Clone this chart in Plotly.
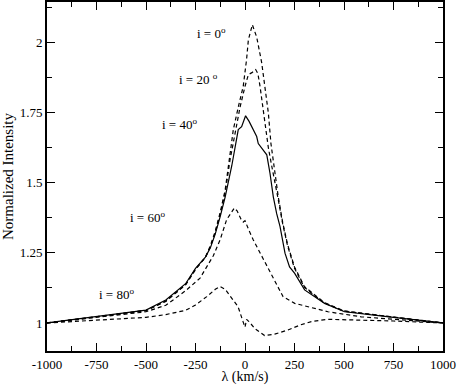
import plotly.graph_objects as go

# line profiles, velocity in km/s
x_i0 = [-1000, -500, -400, -300, -250, -200, -175, -150, -125, -100, -76, -59, -34, -9, 8, 17, 37, 59,
        84, 101, 118, 131, 150, 168, 190, 215, 250, 300, 400, 500, 750, 1000]
y_i0 = [1.0, 1.044, 1.077, 1.136, 1.19, 1.235, 1.275, 1.328, 1.395, 1.475, 1.60, 1.69, 1.77, 1.844,
        1.94, 2.01, 2.064, 2.02, 1.93, 1.844, 1.749, 1.64, 1.54, 1.45, 1.36, 1.28, 1.20, 1.13, 1.073,
        1.043, 1.021, 1.0]

x_i20 = [-1000, -500, -400, -300, -250, -200, -175, -150, -125, -100, -76, -51, -25, 0, 17, 35, 54, 65,
         76, 92, 118, 135, 150, 168, 190, 215, 250, 300, 400, 500, 750, 1000]
y_i20 = [1.0, 1.045, 1.078, 1.137, 1.193, 1.233, 1.271, 1.323, 1.39, 1.465, 1.58, 1.68, 1.77, 1.844,
         1.886, 1.893, 1.904, 1.89, 1.844, 1.76, 1.625, 1.56, 1.51, 1.44, 1.355, 1.275, 1.195, 1.127,
         1.071, 1.042, 1.021, 1.0]

x_i40 = [-1000, -500, -400, -300, -250, -200, -175, -150, -125, -100, -67, -51, -34, -17, 3, 20, 34,
         59, 67, 92, 110, 126, 143, 160, 177, 202, 225, 251, 301, 402, 503, 750, 1000]
y_i40 = [1.0, 1.046, 1.082, 1.14, 1.195, 1.235, 1.268, 1.318, 1.38, 1.45, 1.56, 1.618, 1.69, 1.70,
         1.739, 1.72, 1.70, 1.665, 1.64, 1.618, 1.60, 1.535, 1.45, 1.39, 1.344, 1.249, 1.20, 1.177, 1.118,
         1.07, 1.04, 1.02, 1.0]

x_i60 = [-1000, -500, -400, -300, -227, -160, -126, -93, -54, -40, -20, -9, 0, 8, 20, 42, 84, 133,
         192, 251, 419, 587, 756, 1000]
y_i60 = [1.0, 1.04, 1.063, 1.115, 1.16, 1.24, 1.296, 1.368, 1.41, 1.40, 1.37, 1.36, 1.365, 1.35,
         1.33, 1.296, 1.24, 1.177, 1.094, 1.07, 1.04, 1.022, 1.013, 1.0]

x_i80 = [-1000, -750, -500, -400, -300, -250, -193, -150, -126, -100, -86, -60, -35, -10, 0, 8, 20,
         50, 99, 150, 217, 280, 335, 419, 600, 750, 1000]
y_i80 = [1.0, 1.011, 1.02, 1.03, 1.045, 1.064, 1.094, 1.12, 1.13, 1.12, 1.106, 1.08, 1.058, 1.005,
         0.985, 1.013, 1.005, 0.98, 0.955, 0.96, 0.975, 0.993, 1.005, 1.013, 1.01, 1.007, 1.0]

labels = ["i = 0<sup>o</sup>", "i = 20 <sup>o</sup>", "i = 40<sup>o</sup>",
          "i = 60<sup>o</sup>", "i = 80<sup>o</sup>"]
label_x = [-253, -343, -429, -591, -747]
label_y = [2.036, 1.871, 1.711, 1.379, 1.104]

x_ticks = [-1000, -750, -500, -250, 0, 250, 500, 750, 1000]
x_ticktext = ["-1000", "-750", "-500", "-250", "0", "250", "500", "750", "1000"]
y_ticks = [1, 1.25, 1.5, 1.75, 2]
y_ticktext = ["1", "1.25", "1.5", "1.75", "2"]

curves = [(x_i0, y_i0, "dash"), (x_i20, y_i20, "dash"), (x_i40, y_i40, "solid"),
          (x_i60, y_i60, "dash"), (x_i80, y_i80, "dash")]

serif = "Liberation Serif"

fig = go.Figure()
for xs, ys, dash in curves:
    fig.add_trace(go.Scatter(x=xs, y=ys, mode="lines",
                             line=dict(color="black", width=1.2,
                                       dash="4px,3px" if dash == "dash" else "solid")))

for txt, lx, ly in zip(labels, label_x, label_y):
    fig.add_annotation(x=lx, y=ly, text=txt, showarrow=False, xanchor="left",
                       font=dict(family=serif, size=13, color="black"))

axis_common = dict(showline=True, linecolor="black", linewidth=2, mirror="allticks",
                   ticks="inside", ticklen=8, tickwidth=1, tickcolor="black",
                   showgrid=False, zeroline=False, automargin=False,
                   tickfont=dict(family=serif, size=13, color="black"))

fig.update_xaxes(range=[-1000, 1000], tickvals=x_ticks, ticktext=x_ticktext,
                 minor=dict(tick0=-1000, dtick=125, ticks="inside", ticklen=5, tickcolor="black"),
                 title=dict(text="λ (km/s)", standoff=4,
                            font=dict(family=serif, size=14, color="black")),
                 **axis_common)
fig.update_yaxes(range=[0.9, 2.145], tickvals=y_ticks, ticktext=y_ticktext,
                 minor=dict(tick0=1, dtick=0.125, ticks="inside", ticklen=5, tickcolor="black"),
                 title=dict(text="Normalized Intensity", standoff=4,
                            font=dict(family=serif, size=15, color="black")),
                 **axis_common)

fig.update_layout(width=458, height=385, showlegend=False,
                  plot_bgcolor="white", paper_bgcolor="white",
                  margin=dict(l=47, r=15, t=2, b=34))

# the page body has a default 8px margin that would push the figure off the window
fig.write_html("out.html", config={"displayModeBar": False},
               post_script="document.body.style.margin='0';")
